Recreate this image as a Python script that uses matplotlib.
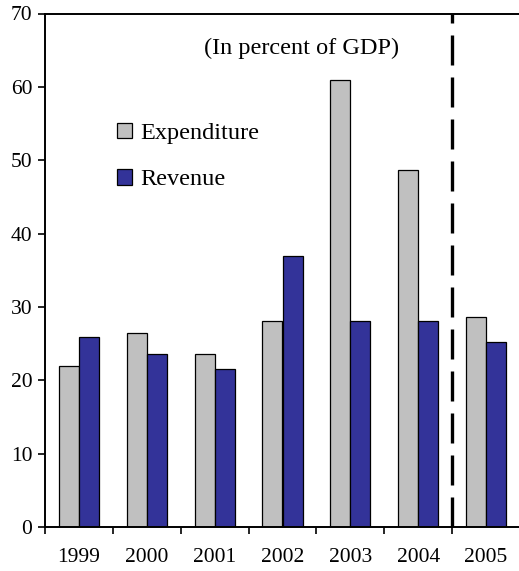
import matplotlib
matplotlib.use("Agg")
import matplotlib.pyplot as plt
from matplotlib.patches import Patch
import numpy as np

plt.rcParams["font.family"] = ["Liberation Serif", "DejaVu Serif"]

# Fiscal figures, percent of GDP
years = ["1999", "2000", "2001", "2002", "2003", "2004", "2005"]
expenditure = [22.0, 26.5, 23.6, 28.1, 60.9, 48.6, 28.6]
revenue = [25.9, 23.6, 21.5, 37.0, 28.1, 28.1, 25.2]

grey = "#C0C0C0"
blue = "#333399"

fig = plt.figure(figsize=(5.19, 5.71), dpi=100)
ax = fig.add_axes([45 / 519, 1 - 527 / 571, 475 / 519, 513.5 / 571])

x = np.arange(len(years))
w = 0.295
ax.bar(x - w / 2, expenditure, w, color=grey, edgecolor="black", linewidth=0.9)
ax.bar(x + w / 2, revenue, w, color=blue, edgecolor="black", linewidth=0.9)

ax.set_xlim(-0.5, len(years) - 0.5)
ax.set_ylim(0, 70)
ax.set_yticks(range(0, 71, 10))

# year labels centred, tick marks on category boundaries
ax.set_xticks(x)
ax.set_xticklabels(years)
ax.set_xticks(np.arange(-0.5, len(years), 1.0), minor=True)
ax.tick_params(axis="x", which="major", length=0, pad=15, labelsize=15.5)
ax.tick_params(axis="x", which="minor", length=5, width=1.2, direction="out")
ax.tick_params(axis="y", length=5, width=1.2, direction="out", pad=4, labelsize=15.5)

for side in ["left", "bottom", "top"]:
    ax.spines[side].set_linewidth(1.4)
ax.spines["right"].set_visible(False)

# projection separator
ax.axvline(5.5, color="black", linewidth=2.4, dashes=(9, 3.6))

ax.text(3.28, 65.3, "(In percent of GDP)", ha="center", va="center", fontsize=17.5)

handles = [Patch(facecolor=grey, edgecolor="black", linewidth=0.9),
           Patch(facecolor=blue, edgecolor="black", linewidth=0.9)]
ax.legend(handles, ["Expenditure", "Revenue"], loc="upper left",
          bbox_to_anchor=(0.152, 0.787), frameon=False, fontsize=17.5,
          handlelength=0.6, handleheight=0.6, handletextpad=0.35,
          labelspacing=1.03, borderpad=0, borderaxespad=0)

plt.savefig("out.png", dpi=100)
